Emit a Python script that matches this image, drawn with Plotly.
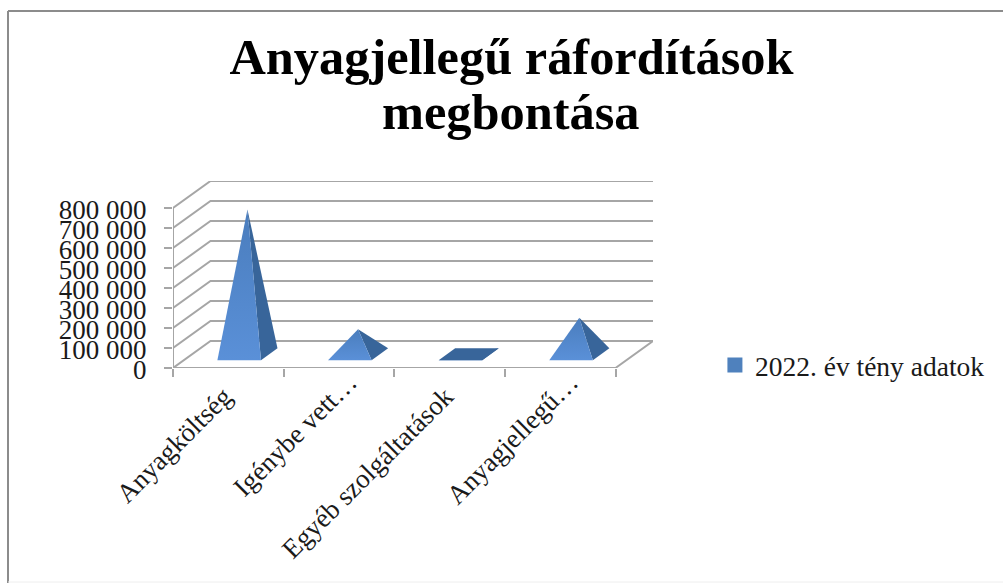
"""Anyagjellegű ráfordítások: Excel-style 3D pyramid column chart in Plotly."""

import plotly.graph_objects as go

# Data
CATEGORIES = ["Anyagköltség", "Igénybe vett…", "Egyéb szolgáltatások", "Anyagjellegű…"]
VALUES = [724000, 125000, 1500, 183000]
SERIES_NAME = "2022. év tény adatok"
Y_TICKS = [0, 100000, 200000, 300000, 400000, 500000, 600000, 700000, 800000]
Y_TICK_LABELS = ["0", "100 000", "200 000", "300 000", "400 000", "500 000",
                 "600 000", "700 000", "800 000"]
TITLE_LINES = ["Anyagjellegű ráfordítások", "megbontása"]

FONT = "Liberation Serif"
FRONT_DARK = "#4A7DBD"
FRONT_LIGHT = "#5A90D8"
SIDE = "#38659A"
GRID = "#A6A6A6"
FRAME = "#8C8C8C"

WIDTH, HEIGHT = 1003, 583
M_LEFT, M_RIGHT, M_TOP, M_BOTTOM = 173, 350, 181, 215
PLOT_W = WIDTH - M_LEFT - M_RIGHT
PLOT_H = HEIGHT - M_TOP - M_BOTTOM

# Oblique projection: how far one full unit of depth shifts a point.
DEPTH_X = 0.339
DEPTH_V = 134700
# Pyramid footprint inside its category slot.
HALF_W = 0.197
D_FRONT, D_BACK = 0.29, 0.73

n = len(CATEGORIES)


def proj(x, v, d):
    return x + d * DEPTH_X, v + d * DEPTH_V


def polygon(points):
    xs, ys = zip(*[proj(*p) for p in points])
    return list(xs) + [xs[0]], list(ys) + [ys[0]]


def add_face(fig, points, colour, gradient=None):
    xs, ys = polygon(points)
    fig.add_trace(go.Scatter(
        x=xs, y=ys, mode="lines", fill="toself", fillcolor=colour,
        fillgradient=gradient, line=dict(width=0, color=colour),
        showlegend=False, hoverinfo="skip",
    ))


def paper_x(px):
    return (px - M_LEFT) / PLOT_W


def paper_y(py):
    return (HEIGHT - M_BOTTOM - py) / PLOT_H


def frame_line(x0, y0, x1, y1, colour=FRAME, width=2):
    return dict(type="line", xref="paper", yref="paper", layer="below",
                x0=paper_x(x0), y0=paper_y(y0), x1=paper_x(x1), y1=paper_y(y1),
                line=dict(color=colour, width=width))


fig = go.Figure()

# Back wall gridlines, left wall diagonals and the floor.
grid_x, grid_y = [], []
for v in Y_TICKS:
    for p in [(0, v, 0), (0, v, 1), (n, v, 1)]:
        px_, py_ = proj(*p)
        grid_x.append(px_)
        grid_y.append(py_)
    grid_x.append(None)
    grid_y.append(None)
for p in [(0, Y_TICKS[-1], 0), (0, 0, 0), (n, 0, 0), (n, 0, 1)]:
    px_, py_ = proj(*p)
    grid_x.append(px_)
    grid_y.append(py_)
fig.add_trace(go.Scatter(
    x=grid_x, y=grid_y, mode="lines", line=dict(color=GRID, width=2),
    showlegend=False, hoverinfo="skip",
))

# Pyramids
front_gradient = dict(type="vertical",
                      colorscale=[[0, FRONT_LIGHT], [1, FRONT_DARK]])
for i, value in enumerate(VALUES):
    cx = i + 0.5
    fl = (cx - HALF_W, 0, D_FRONT)
    fr = (cx + HALF_W, 0, D_FRONT)
    br = (cx + HALF_W, 0, D_BACK)
    bl = (cx - HALF_W, 0, D_BACK)
    apex = (cx, value, (D_FRONT + D_BACK) / 2)
    add_face(fig, [fr, br, apex], SIDE)
    add_face(fig, [fl, fr, apex], FRONT_LIGHT, front_gradient)
    # A nearly flat pyramid only shows as its dark footprint.
    if value < 50000:
        add_face(fig, [fl, fr, br, bl], SIDE)

# Legend swatch only: no visible points of its own.
fig.add_trace(go.Scatter(
    x=[None], y=[None], mode="markers", name=SERIES_NAME,
    marker=dict(symbol="square", size=15, color="#4F81BD"),
))

# The truncated labels sit further along their baseline in the original, so the
# full ones get trailing no-break spaces to pull them back.
tick_text = [c if c.endswith("…") else c + "\u00a0" * 3 for c in CATEGORIES]

title_font = dict(family=FONT, size=50.4, color="black", weight="bold")
fig.update_layout(
    width=WIDTH, height=HEIGHT,
    margin=dict(l=M_LEFT, r=M_RIGHT, t=M_TOP, b=M_BOTTOM, autoexpand=False),
    paper_bgcolor="white", plot_bgcolor="white",
    font=dict(family=FONT, color="#1a1a1a"),
    title=dict(
        text=TITLE_LINES[0], x=511.5 / WIDTH, xanchor="center",
        y=1 - 74 / HEIGHT, yanchor="bottom", yref="container", font=title_font,
    ),
    annotations=[dict(
        text=TITLE_LINES[1], xref="paper", yref="paper", showarrow=False,
        x=paper_x(510.5), y=paper_y(142),
        xanchor="center", yanchor="bottom", font=title_font,
    )],
    legend=dict(
        x=1.129, y=0.015, xanchor="left", yanchor="middle",
        font=dict(family=FONT, size=27.5), bgcolor="rgba(0,0,0,0)",
    ),
    showlegend=True,
    # Only the top and left edges of the chart frame are in the crop.
    shapes=[
        frame_line(8, 11, WIDTH, 11),
        frame_line(8, 11, 8, HEIGHT),
        frame_line(8, 582, WIDTH, 582, colour="#EEEEEE", width=1),
    ],
)
fig.update_xaxes(
    range=[0, n + DEPTH_X], showgrid=False, zeroline=False, showline=False,
    tickmode="array", tickvals=[i + 0.5 for i in range(n)], ticktext=tick_text,
    ticks="", tickangle=-45, tickfont=dict(family=FONT, size=27),
    ticklabelstandoff=-8, ticklabelshift=10,
    minor=dict(tickmode="array", tickvals=list(range(n + 1)), ticks="outside",
               ticklen=8, tickwidth=2, tickcolor=GRID, showgrid=False),
)
fig.update_yaxes(
    range=[0, Y_TICKS[-1] + DEPTH_V], showgrid=False, zeroline=False, showline=False,
    tickmode="array", tickvals=Y_TICKS, ticktext=Y_TICK_LABELS,
    ticks="outside", ticklen=8, tickwidth=2, tickcolor=GRID,
    tickfont=dict(family=FONT, size=27), ticklabelstandoff=12, ticklabelshift=2,
)

fig.write_html("out.html", config={"displayModeBar": False},
               post_script="document.body.style.margin='0';")
